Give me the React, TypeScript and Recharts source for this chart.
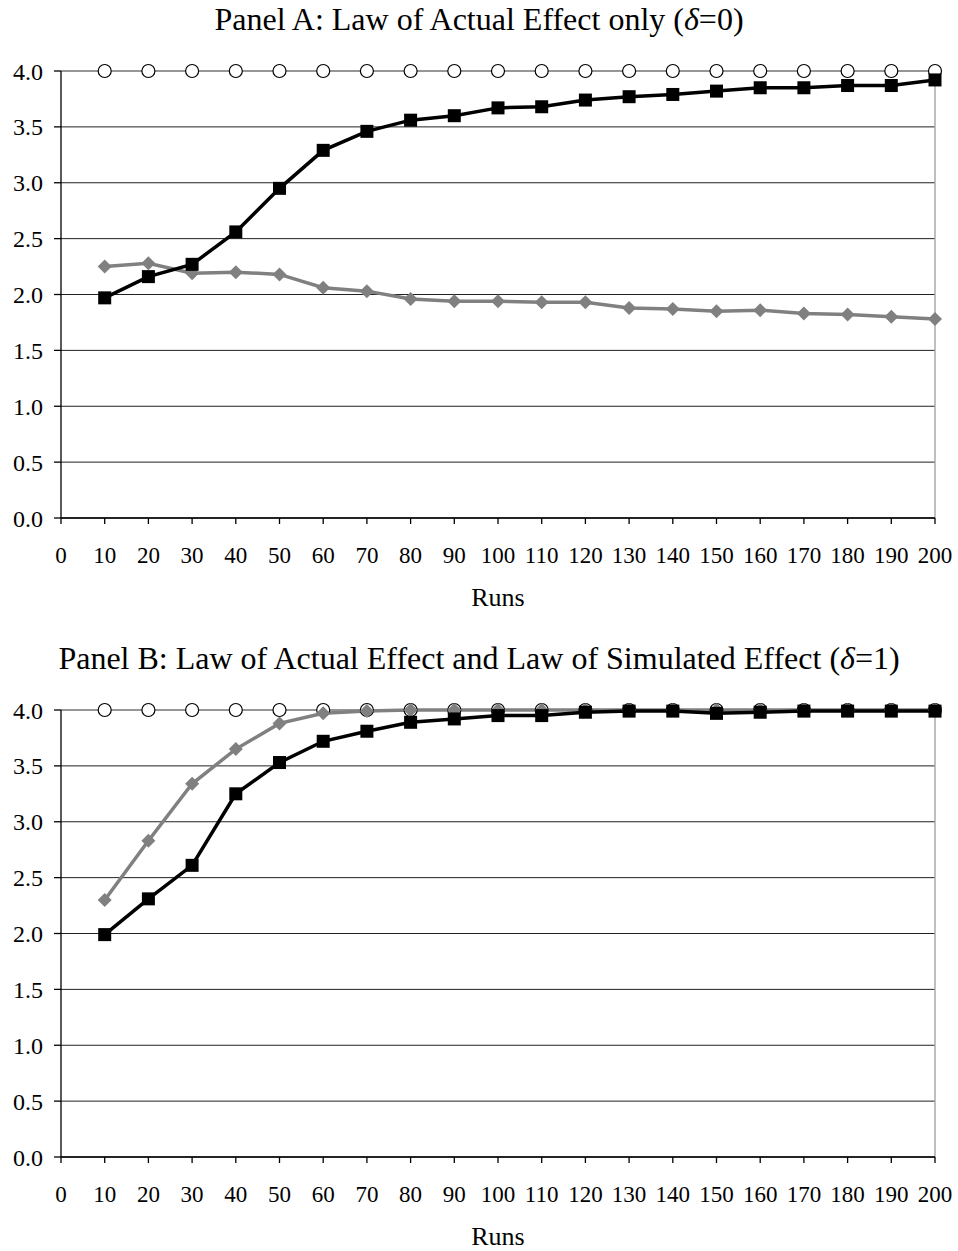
import React from 'react';
import { LineChart, Line, XAxis, YAxis, CartesianGrid, ReferenceLine } from 'recharts';

// Runs (x categories)
const runs = [10, 20, 30, 40, 50, 60, 70, 80, 90, 100, 110, 120, 130, 140, 150, 160, 170, 180, 190, 200];
const xTicks = [0, 10, 20, 30, 40, 50, 60, 70, 80, 90, 100, 110, 120, 130, 140, 150, 160, 170, 180, 190, 200];
const yTicks = [0, 0.5, 1, 1.5, 2, 2.5, 3, 3.5, 4];

// Panel A (delta = 0)
const panelAMax = [4, 4, 4, 4, 4, 4, 4, 4, 4, 4, 4, 4, 4, 4, 4, 4, 4, 4, 4, 4];
const panelAGray = [2.25, 2.28, 2.19, 2.2, 2.18, 2.06, 2.03, 1.96, 1.94, 1.94, 1.93, 1.93, 1.88, 1.87, 1.85, 1.86, 1.83, 1.82, 1.8, 1.78];
const panelABlack = [1.97, 2.16, 2.27, 2.56, 2.95, 3.29, 3.46, 3.56, 3.6, 3.67, 3.68, 3.74, 3.77, 3.79, 3.82, 3.85, 3.85, 3.87, 3.87, 3.92];

// Panel B (delta = 1)
const panelBMax = [4, 4, 4, 4, 4, 4, 4, 4, 4, 4, 4, 4, 4, 4, 4, 4, 4, 4, 4, 4];
const panelBGray = [2.3, 2.83, 3.34, 3.65, 3.88, 3.97, 3.99, 4.0, 4.0, 4.0, 4.0, 4.0, 4.0, 4.0, 4.0, 4.0, 4.0, 4.0, 4.0, 4.0];
const panelBBlack = [1.99, 2.31, 2.61, 3.25, 3.53, 3.72, 3.81, 3.89, 3.92, 3.95, 3.95, 3.98, 3.99, 3.99, 3.97, 3.98, 3.99, 3.99, 3.99, 3.99];

const FONT = '"Liberation Serif", "Times New Roman", Times, serif';

const CircleDot = (props: any) => {
  const { cx, cy, index } = props;
  if (cx == null || cy == null) return <g key={`c-${index}`} />;
  return <circle key={`c-${index}`} cx={cx} cy={cy} r={6.5} fill="#fff" stroke="#000" strokeWidth={1.2} />;
};

const DiamondDot = (props: any) => {
  const { cx, cy, index } = props;
  if (cx == null || cy == null) return <g key={`d-${index}`} />;
  const r = 7;
  return (
    <polygon
      key={`d-${index}`}
      points={`${cx},${cy - r} ${cx + r},${cy} ${cx},${cy + r} ${cx - r},${cy}`}
      fill="#808080"
    />
  );
};

const SquareDot = (props: any) => {
  const { cx, cy, index } = props;
  if (cx == null || cy == null) return <g key={`s-${index}`} />;
  const h = 6.5;
  return <rect key={`s-${index}`} x={cx - h} y={cy - h} width={2 * h} height={2 * h} fill="#000" />;
};

type PanelProps = {
  top: number;
  title: React.ReactNode;
  maxV: number[];
  grayV: number[];
  blackV: number[];
};

function Panel({ top, title, maxV, grayV, blackV }: PanelProps) {
  const data = runs.map((r, i) => ({ run: r, max: maxV[i], gray: grayV[i], black: blackV[i] }));
  return (
    <div style={{ position: 'absolute', left: 0, top, width: 958, height: 612 }}>
      <div
        style={{
          position: 'absolute',
          left: 0,
          top: 2,
          width: 958,
          textAlign: 'center',
          fontFamily: FONT,
          fontSize: 32,
          lineHeight: '34px',
          color: '#000',
          whiteSpace: 'nowrap',
        }}
      >
        {title}
      </div>
      <LineChart width={958} height={612} data={data} margin={{ top: 71, right: 23, bottom: 34, left: 0 }}>
        <CartesianGrid vertical={false} stroke="#222" />
        <XAxis
          dataKey="run"
          type="number"
          domain={[0, 200]}
          ticks={xTicks}
          interval={0}
          height={60}
          tickSize={6}
          tickMargin={23}
          axisLine={{ stroke: '#000', strokeWidth: 1.3 }}
          tickLine={{ stroke: '#000', strokeWidth: 1.3 }}
          tick={{ fill: '#000', fontSize: 23, fontFamily: FONT }}
        />
        <YAxis
          type="number"
          domain={[0, 4]}
          ticks={yTicks}
          interval={0}
          width={61}
          tickSize={7}
          tickMargin={11}
          tickFormatter={(v: number) => v.toFixed(1)}
          axisLine={{ stroke: '#000', strokeWidth: 1.3 }}
          tickLine={{ stroke: '#000', strokeWidth: 1.3 }}
          tick={{ fill: '#000', fontSize: 24, fontFamily: FONT }}
        />
        <ReferenceLine y={4} stroke="#999" strokeWidth={1.3} />
        <ReferenceLine x={200} stroke="#aaa" strokeWidth={1.5} />
        <Line dataKey="max" stroke="none" dot={CircleDot} activeDot={false} isAnimationActive={false} />
        <Line dataKey="gray" stroke="#808080" strokeWidth={3.5} dot={DiamondDot} activeDot={false} isAnimationActive={false} />
        <Line dataKey="black" stroke="#000" strokeWidth={3.5} dot={SquareDot} activeDot={false} isAnimationActive={false} />
      </LineChart>
      <div
        style={{
          position: 'absolute',
          left: 61,
          width: 874,
          top: 582,
          textAlign: 'center',
          fontFamily: FONT,
          fontSize: 26,
          lineHeight: '32px',
          color: '#000',
        }}
      >
        Runs
      </div>
    </div>
  );
}

export default function App() {
  return (
    <div style={{ position: 'absolute', left: 0, top: 0, width: 958, height: 1251, background: '#fff' }}>
      <Panel
        top={0}
        title={<span>Panel A: Law of Actual Effect only (<i>δ</i>=0)</span>}
        maxV={panelAMax}
        grayV={panelAGray}
        blackV={panelABlack}
      />
      <Panel
        top={639}
        title={<span>Panel B: Law of Actual Effect and Law of Simulated Effect (<i>δ</i>=1)</span>}
        maxV={panelBMax}
        grayV={panelBGray}
        blackV={panelBBlack}
      />
    </div>
  );
}
